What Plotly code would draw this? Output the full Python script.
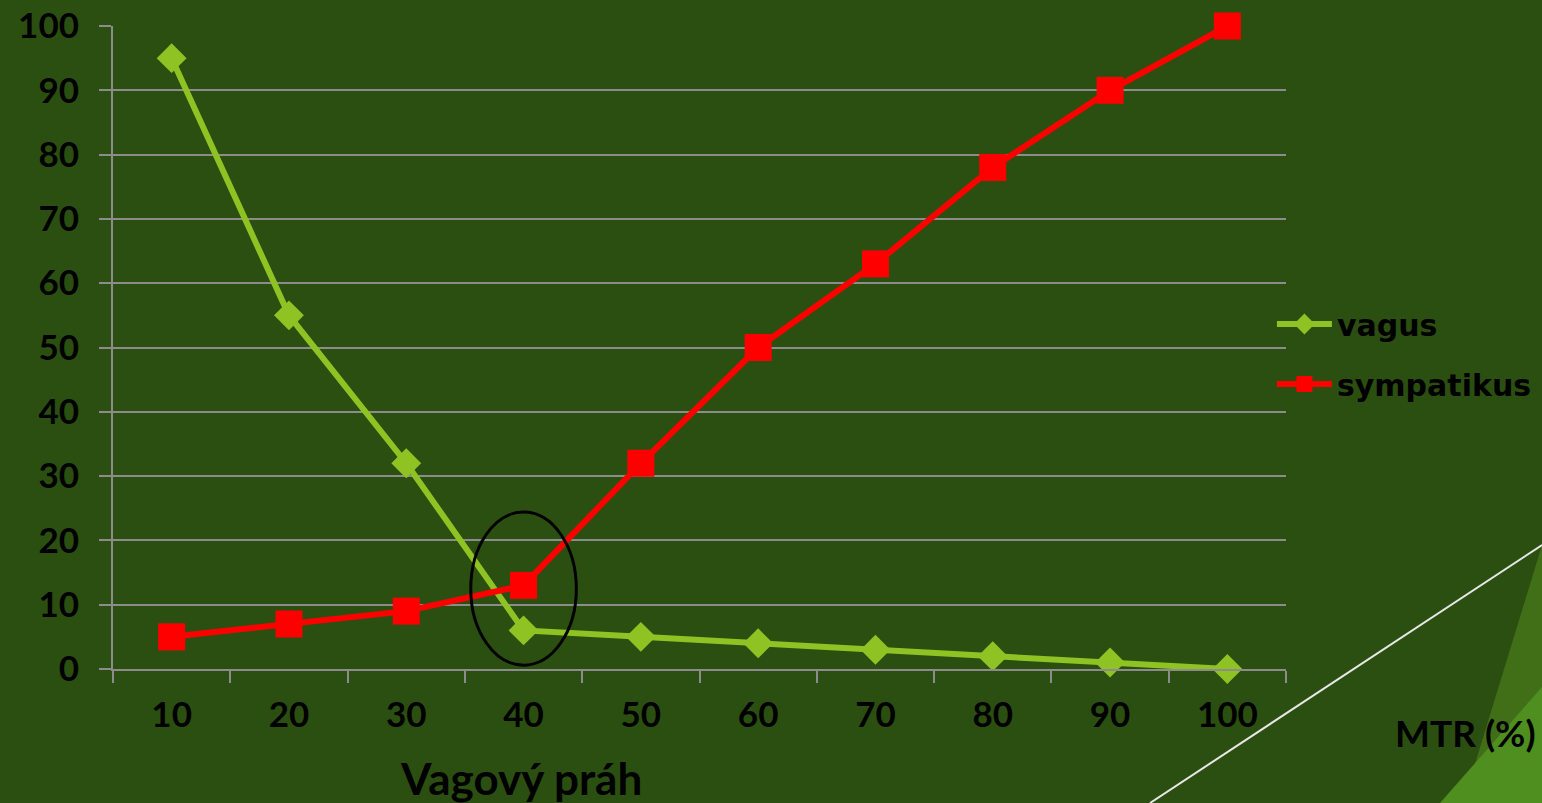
import plotly.graph_objects as go

categories = ["10", "20", "30", "40", "50", "60", "70", "80", "90", "100"]
vagus = [95, 55, 32, 6, 5, 4, 3, 2, 1, 0]
sympatikus = [5, 7, 9, 13, 32, 50, 63, 78, 90, 100]
y_ticks = [0, 10, 20, 30, 40, 50, 60, 70, 80, 90, 100]

BG = "#2B4F11"
GRID = "#8C8C8C"
VAGUS_C = "#8FC323"
SYMP_C = "#FF0000"
TICKFONT = dict(family="Lato, Open Sans, sans-serif", size=35, color="black", weight="bold")

fig = go.Figure()
fig.add_trace(go.Scatter(
    x=categories, y=vagus, name="vagus", mode="lines+markers",
    line=dict(color=VAGUS_C, width=6),
    marker=dict(symbol="diamond", size=23, color=VAGUS_C),
    legendgroup="a", cliponaxis=False,
))
fig.add_trace(go.Scatter(
    x=categories, y=sympatikus, name="sympatikus", mode="lines+markers",
    line=dict(color=SYMP_C, width=6),
    marker=dict(symbol="square", size=27, color=SYMP_C),
    legendgroup="b", cliponaxis=False,
))

fig.update_layout(
    width=1542, height=803,
    margin=dict(l=113, r=256, t=26, b=134, autoexpand=False),
    paper_bgcolor=BG, plot_bgcolor=BG,
    showlegend=True,
    legend=dict(
        x=0.988, y=0.577, xanchor="left", yanchor="top",
        bgcolor="rgba(0,0,0,0)",
        font=dict(family="DejaVu Sans", size=30, color="black", weight="bold"),
        traceorder="grouped", tracegroupgap=18, itemwidth=55,
    ),
    xaxis=dict(
        type="category", tickson="boundaries", ticks="outside", ticklen=12,
        tickcolor=GRID, tickwidth=2, showline=True, linecolor=GRID, linewidth=2,
        showgrid=False, tickfont=TICKFONT, ticklabelstandoff=14,
        range=[-0.5, 9.5], zeroline=False, automargin=False,
    ),
    yaxis=dict(
        range=[0, 100], tickvals=y_ticks, ticks="outside", ticklen=12,
        tickcolor=GRID, tickwidth=2, showline=True, linecolor=GRID, linewidth=2,
        showgrid=True, gridcolor=GRID, gridwidth=2, tickfont=TICKFONT,
        ticklabelstandoff=13, zeroline=False, automargin=False,
    ),
)

# decorative background shapes (bottom right)
fig.add_shape(type="path", xref="paper", yref="paper", layer="below",
              path="M 1.2183 0.1928 L 1.1509 -0.2084 L 1.2183 -0.2084 Z",
              line=dict(width=0), fillcolor="#416F18")
fig.add_shape(type="path", xref="paper", yref="paper", layer="below",
              path="M 1.2183 -0.0280 L 1.1313 -0.2084 L 1.2183 -0.2084 Z",
              line=dict(width=0), fillcolor="#4E8F20")
fig.add_shape(type="line", xref="paper", yref="paper", layer="below",
              x0=0.8841, y0=-0.2084, x1=1.2183, y1=0.1928,
              line=dict(color="#E8E8E8", width=2))

# ellipse around crossing point
fig.add_shape(type="circle", xref="x", yref="y",
              x0=2.55, x1=3.45, y0=0.6, y1=24.4,
              line=dict(color="black", width=3))

fig.add_annotation(text="Vagový práh", xref="paper", yref="paper",
                   x=0.348, y=-0.170, xanchor="center", yanchor="middle",
                   showarrow=False,
                   font=dict(family="Lato, Open Sans, sans-serif", size=44, color="black", weight="bold"))
fig.add_annotation(text="MTR (%)", xref="paper", yref="paper",
                   x=1.2148, y=-0.098, xanchor="right", yanchor="middle",
                   showarrow=False,
                   font=dict(family="Lato, Open Sans, sans-serif", size=37, color="black", weight="bold"))

fig.write_html("out.html", config={"displayModeBar": False},
               post_script="document.body.style.margin='0';document.body.style.overflow='hidden';")
